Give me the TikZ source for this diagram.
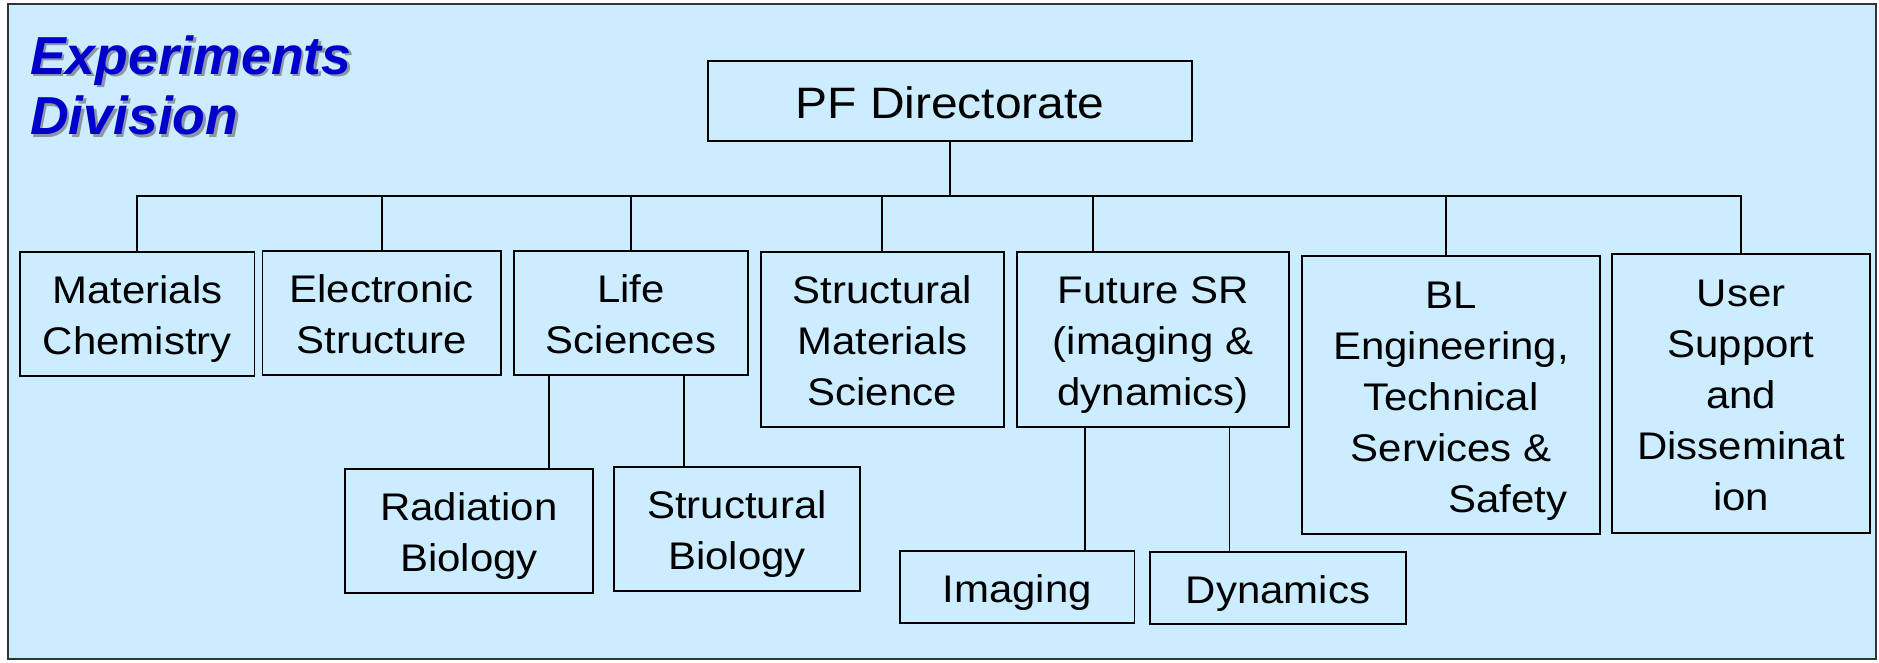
\documentclass[tikz,border=0pt]{standalone}
\usepackage{fontspec}
\setmainfont{Liberation Sans}[FakeStretch=1.09]
\newfontfamily\titlefont{Liberation Sans}
\definecolor{bgblue}{RGB}{204,236,255}
\definecolor{titleblue}{RGB}{0,0,204}
\definecolor{shadowgray}{RGB}{140,150,165}
\tikzset{
  boxbase/.style={draw=black, line width=1.8pt, inner sep=0pt, align=center},
  box/.style={boxbase, font=\fontsize{38.5}{51}\selectfont, text depth=8.1pt},
  lineone/.style={text height=38.7pt},
  linetwo/.style={text height=89.7pt},
  linethree/.style={text height=140.7pt},
  linefive/.style={text height=242.7pt},
  topbox/.style={boxbase, font=\fontsize{44}{52}\selectfont,
    text height=44.2pt, text depth=9.3pt},
  wire/.style={line width=1.8pt, draw=black},
  titletext/.style={font=\titlefont\bfseries\itshape\fontsize{53.5}{60}\selectfont,
    anchor=base west, inner sep=0pt},
}
\begin{document}
\begin{tikzpicture}[x=1pt,y=-1pt]
\useasboundingbox (0,0) rectangle (1879,662);
\fill[white] (0,0) rectangle (1879,662);
\draw[fill=bgblue, draw=black!80, line width=1.5pt] (8,4) rectangle (1876,659);

% title with shadow
\node[titletext, text=shadowgray] (t1s) at (32.5,76.5) {Experiments};
\node[titletext, text=shadowgray] (t2s) at (32.5,137) {Division};
\node[titletext, text=titleblue] (t1) at (30,74) {Experiments};
\node[titletext, text=titleblue] (t2) at (30,134.5) {Division};

% boxes
\node[topbox, minimum width=484pt, minimum height=80pt] (PF) at (950,101) {PF Directorate};
\node[box, linetwo, minimum width=234.5pt, minimum height=124pt] (MC) at (137.25,314) {Materials\\Chemistry};
\node[box, linetwo, minimum width=238.5pt, minimum height=124pt] (ES) at (381.75,313) {Electronic\\Structure};
\node[box, linetwo, minimum width=234pt, minimum height=124pt] (LS) at (631,313) {Life\\Sciences};
\node[box, linethree, minimum width=242.6pt, minimum height=175pt] (SMS) at (882.3,339.5) {Structural\\Materials\\Science};
\node[box, linethree, minimum width=272pt, minimum height=175pt] (FSR) at (1153,339.5) {Future SR\\(imaging \&\\dynamics)};
\node[box, linefive, minimum width=298pt, minimum height=278pt] (BL) at (1451,395) {BL\\Engineering,\\Technical\\Services \&\hspace*{30pt}\\\hspace*{114pt}Safety};
\node[box, linefive, minimum width=258pt, minimum height=279pt] (US) at (1741,393.5) {User\\Support\\and\\Disseminat\\ion};
\node[box, linetwo, minimum width=248pt, minimum height=124pt] (RB) at (469,531) {Radiation\\Biology};
\node[box, linetwo, minimum width=246pt, minimum height=124pt] (SB) at (737,529) {Structural\\Biology};
\node[box, lineone, minimum width=234.4pt, minimum height=72pt] (IM) at (1017.2,587) {Imaging};
\node[box, lineone, minimum width=256pt, minimum height=72pt] (DY) at (1278,588) {Dynamics};

% connectors
\coordinate (J) at (950,196);
\draw[wire] (PF.south) -- (J);
\draw[wire] (MC.north) |- (J);
\draw[wire] (ES.north) |- (J);
\draw[wire] (LS.north) |- (J);
\draw[wire] (SMS.north) |- (J);
\draw[wire] ([xshift=-60pt]FSR.north) |- (J);
\draw[wire] ([xshift=-5pt]BL.north) |- (J);
\draw[wire] (US.north) |- (J);

\coordinate (rbx) at (549,0);
\coordinate (sbx) at (684,0);
\coordinate (imx) at (1085,0);
\coordinate (dyx) at (1229.5,0);
\draw[wire] (LS.south -| rbx) -- (RB.north -| rbx);
\draw[wire] (LS.south -| sbx) -- (SB.north -| sbx);
\draw[wire] (FSR.south -| imx) -- (IM.north -| imx);
\draw[wire] (FSR.south -| dyx) -- (DY.north -| dyx);
\end{tikzpicture}
\end{document}
